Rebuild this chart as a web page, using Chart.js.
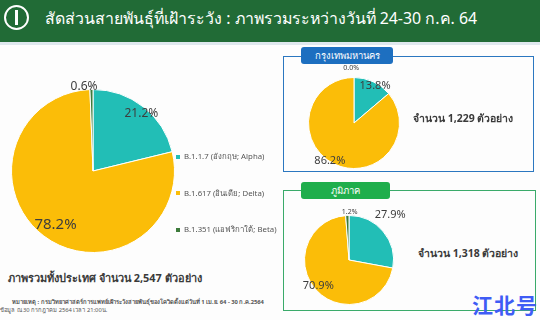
<!DOCTYPE html>
<html lang="th">
<head>
  <meta charset="UTF-8" />
  <title>สัดส่วนสายพันธุ์ที่เฝ้าระวัง</title>
  <script src="https://cdn.jsdelivr.net/npm/chart.js"></script>
  <style>
    body {
      margin: 0;
      width: 540px;
      height: 320px;
      position: relative;
      overflow: hidden;
      background: #fdfdfd;
      font-family: "Noto Sans", "DejaVu Sans", sans-serif;
    }
    .abs { position: absolute; }
    #header {
      left: 0; top: 0; width: 540px; height: 42px;
      background: #216b36;
      border-bottom: 3px solid #dfe8ee;
    }
    #logo {
      left: 4px; top: 5px; width: 21px; height: 21px;
      border: 2px solid #fff; border-radius: 50%;
    }
    #logo span {
      position: absolute; left: 9px; top: 3px; width: 3px; height: 15px; background: #fff;
    }
    #title {
      left: 45px; top: 6px; color: #fff; font-size: 15.9px; white-space: nowrap;
    }
    canvas { position: absolute; }
    #legend { left: 176px; top: 150px; }
    .item {
      position: absolute; white-space: nowrap; font-size: 7.8px; color: #555;
    }
    .item i {
      display: inline-block; width: 4px; height: 4px; margin-right: 4px; vertical-align: middle;
    }
    #subtitle {
      left: 8px; top: 269px; font-size: 10.9px; font-weight: bold; color: #3a3a3a; white-space: nowrap;
    }
    .note { font-size: 5.8px; color: #555; white-space: nowrap; }
    .box { border: 1.5px solid #2b77c0; }
    .tab {
      color: #fff; font-size: 9.5px; text-align: center; border-radius: 3px; line-height: 17px;
    }
    .count { font-size: 10.5px; font-weight: bold; color: #3a3a3a; white-space: nowrap; }
    #mark {
      left: 472px; top: 289px; font-size: 21px; font-weight: bold; color: #3f5cf5;
      font-family: "Noto Sans CJK SC", sans-serif; letter-spacing: 1px;
    }
  </style>
</head>
<body>
  <div id="header" class="abs"></div>
  <div id="logo" class="abs"><span></span></div>
  <div id="title" class="abs">สัดส่วนสายพันธุ์ที่เฝ้าระวัง : ภาพรวมระหว่างวันที่ 24-30 ก.ค. 64</div>

  <canvas id="allChart" width="186" height="186" style="left:0;top:78px"></canvas>
  <div id="legend" class="abs"></div>
  <div id="subtitle" class="abs">ภาพรวมทั้งประเทศ จำนวน 2,547 ตัวอย่าง</div>
  <div class="abs note" style="left:12px;top:297px;font-weight:bold">หมายเหตุ : กรมวิทยาศาสตร์การแพทย์เฝ้าระวังสายพันธุ์ของโควิดตั้งแต่วันที่ 1 เม.ย. 64 - 30 ก.ค.2564</div>
  <div class="abs note" style="left:0;top:305px">ข้อมูล ณ 30 กรกฎาคม 2564 เวลา 21:00น.</div>

  <div class="abs box" style="left:283px;top:56px;width:249px;height:114px"></div>
  <div class="abs tab" style="left:301px;top:47px;width:92px;height:17px;background:#1d6fc0">กรุงเทพมหานคร</div>
  <canvas id="bkkChart" width="120" height="120" style="left:294px;top:63px"></canvas>
  <div class="abs count" style="left:413px;top:110px">จำนวน 1,229 ตัวอย่าง</div>

  <div class="abs box" style="left:283px;top:190px;width:251px;height:119px;border-color:#3aaa6a"></div>
  <div class="abs tab" style="left:301px;top:182px;width:89px;height:17px;background:#1fae4c">ภูมิภาค</div>
  <canvas id="regChart" width="130" height="130" style="left:284px;top:195px"></canvas>
  <div class="abs count" style="left:418px;top:245px">จำนวน 1,318 ตัวอย่าง</div>

  <div id="mark" class="abs">江北号</div>

  <script>
    const variants = ['B.1.1.7 (อังกฤษ; Alpha)', 'B.1.617 (อินเดีย; Delta)', 'B.1.351 (แอฟริกาใต้; Beta)'];
    const nationwide = [21.2, 78.2, 0.6];
    const bangkok = [13.8, 86.2, 0.0];
    const regional = [27.9, 70.9, 1.2];
    const colors = ['#22beb6', '#fbbd08', '#3d7b3b'];

    // legend rows
    const legend = document.getElementById('legend');
    variants.forEach((v, i) => {
      const d = document.createElement('div');
      d.className = 'item';
      d.style.top = (i * 36.5) + 'px';
      d.innerHTML = '<i style="background:' + colors[i] + '"></i>' + v;
      legend.appendChild(d);
    });

    // percent labels placed along each slice's mid angle
    const pctLabels = {
      id: 'pctLabels',
      afterDatasetsDraw(chart, args, opts) {
        const ctx = chart.ctx;
        const values = chart.data.datasets[0].data;
        chart.getDatasetMeta(0).data.forEach((arc, i) => {
          const p = arc.getProps(['x', 'y', 'startAngle', 'endAngle', 'outerRadius']);
          const a = (p.startAngle + p.endAngle) / 2 + opts.shift[i] * Math.PI / 180;
          const r = p.outerRadius * opts.dist[i];
          ctx.save();
          ctx.font = opts.sizes[i] + 'px "Noto Sans", "DejaVu Sans", sans-serif';
          ctx.fillStyle = '#3d3d3d';
          ctx.textAlign = 'center';
          ctx.textBaseline = 'middle';
          ctx.fillText(values[i].toFixed(1) + '%', p.x + Math.cos(a) * r, p.y + Math.sin(a) * r);
          ctx.restore();
        });
      }
    };

    function makePie(id, values, pad, labelOpts) {
      new Chart(document.getElementById(id), {
        type: 'pie',
        data: {
          labels: variants,
          datasets: [{
            data: values,
            backgroundColor: colors,
            borderColor: '#fff',
            borderWidth: 1
          }]
        },
        options: {
          responsive: false,
          animation: false,
          layout: { padding: pad },
          plugins: {
            legend: { display: false },
            tooltip: { enabled: false },
            pctLabels: labelOpts
          }
        },
        plugins: [pctLabels]
      });
    }

    makePie('allChart', nationwide, 11, { dist: [0.92, 0.8, 1.04], shift: [2, -2, -5], sizes: [12, 15, 12] });
    makePie('bkkChart', bangkok, 14, { dist: [0.93, 0.98, 1.2], shift: [5, 8, -3], sizes: [11, 11, 7] });
    makePie('regChart', regional, 20, { dist: [1.38, 0.9, 1.09], shift: [-8, 2, 3], sizes: [11, 11, 7] });
  </script>
</body>
</html>
